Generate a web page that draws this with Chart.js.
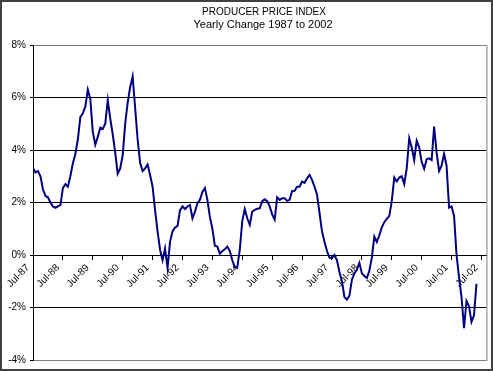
<!DOCTYPE html>
<html>
<head>
<meta charset="utf-8">
<script src="https://cdn.jsdelivr.net/npm/chart.js@4.4.1/dist/chart.umd.min.js"></script>
<style>
  html, body { margin: 0; padding: 0; background: #fff; }
  canvas { display: block; }
</style>
</head>
<body>
<canvas id="chart" width="493" height="371"></canvas>
<script>
// Title lines
const TITLE = "PRODUCER PRICE INDEX";
const SUBTITLE = "Yearly Change 1987 to 2002";

// X tick labels, one every 12 months starting Jul-87
const TICK_LABELS = [
    "Jul-87", "Jul-88", "Jul-89", "Jul-90", "Jul-91", "Jul-92", "Jul-93", "Jul-94",
    "Jul-95", "Jul-96", "Jul-97", "Jul-98", "Jul-99", "Jul-00", "Jul-01", "Jul-02",
];

// Y axis ticks (percent)
const Y_TICKS = [-4, -2, 0, 2, 4, 6, 8];

// Monthly yearly change (%), Jul-87 onward
const PPI_CHANGE = [
    3.3, 3.15, 3.2, 3.0, 2.5, 2.25, 2.2, 2.0, 1.85, 1.8, 1.85, 1.9,
    2.55, 2.7, 2.6, 3.0, 3.5, 3.85, 4.4, 5.25, 5.4, 5.65, 6.3, 5.95,
    4.7, 4.2, 4.5, 4.85, 4.8, 5.0, 5.9, 5.2, 4.6, 3.9, 3.1, 3.3,
    3.8, 5.0, 5.8, 6.4, 6.8, 5.6, 4.4, 3.5, 3.2, 3.3, 3.45, 3.05,
    2.6, 1.7, 0.9, 0.2, -0.2, 0.25, -0.5, 0.5, 0.9, 1.05, 1.1, 1.7,
    1.85, 1.75, 1.85, 1.9, 1.4, 1.65, 1.97, 2.1, 2.4, 2.55, 2.1, 1.45,
    1.0, 0.35, 0.32, 0.05, 0.15, 0.22, 0.32, 0.15, -0.2, -0.47, -0.47, 0.2,
    1.3, 1.75, 1.4, 1.15, 1.65, 1.72, 1.76, 1.78, 2.05, 2.12, 2.05, 1.85,
    1.55, 1.35, 2.2, 2.1, 2.16, 2.16, 2.06, 2.1, 2.44, 2.45, 2.6, 2.6,
    2.8, 2.75, 2.92, 3.05, 2.86, 2.6, 2.3, 1.6, 0.9, 0.5, 0.15, -0.1,
    -0.13, 0.0, -0.2, -0.65, -1.0, -1.6, -1.7, -1.55, -0.95, -0.7, -0.55, -0.3,
    -0.7, -0.8, -0.88, -0.6, -0.1, 0.7, 0.5, 0.75, 1.05, 1.25, 1.38, 1.48,
    2.05, 2.95, 2.8, 2.95, 3.0, 2.7, 3.3, 4.45, 4.1, 3.62, 4.35, 4.1,
    3.55, 3.28, 3.65, 3.68, 3.62, 4.89, 3.9, 3.2, 3.4, 3.85, 3.4, 1.8,
    1.85, 1.5, 0.0, -0.85, -1.6, -2.79, -1.75, -1.95, -2.55, -2.3, -1.1,
];

const FONT = "'Liberation Sans', Arial, sans-serif";

// frame, plot border and title text
const framePlugin = {
    id: "frame",
    beforeDatasetsDraw(chart) {
        const { ctx, chartArea } = chart;
        ctx.save();
        ctx.strokeStyle = "#808080";
        ctx.lineWidth = 1;
        ctx.beginPath();
        ctx.moveTo(chartArea.right + 0.5, chartArea.top);
        ctx.lineTo(chartArea.right + 0.5, chartArea.bottom + 1);
        ctx.stroke();
        ctx.restore();
    },
    afterDraw(chart) {
        const { ctx, width, height } = chart;
        ctx.save();
        ctx.strokeStyle = "#404040";
        ctx.lineWidth = 2;
        ctx.strokeRect(1, 1, width - 2, height - 2);
        ctx.fillStyle = "#000";
        ctx.textAlign = "center";
        ctx.textBaseline = "middle";
        ctx.font = "10px " + FONT;
        ctx.fillText(TITLE, 264, 12);
        ctx.font = "11px " + FONT;
        ctx.fillText(SUBTITLE, 263, 25);
        ctx.restore();
    },
};

new Chart(document.getElementById("chart"), {
    type: "line",
    data: {
        datasets: [{
            data: PPI_CHANGE.map((v, i) => ({ x: i, y: v })),
            borderColor: "#000080",
            borderWidth: 2,
            pointRadius: 0,
            tension: 0,
            fill: false,
        }],
    },
    options: {
        responsive: false,
        animation: false,
        devicePixelRatio: 1,
        layout: { padding: { left: 0, top: 45, right: 5, bottom: 11 } },
        plugins: {
            legend: { display: false },
            title: { display: false },
            tooltip: { enabled: false },
        },
        scales: {
            x: {
                type: "linear",
                position: { y: 0 },
                min: 0,
                max: 182,
                grid: { drawOnChartArea: false, drawTicks: true, tickLength: 4, color: "#000" },
                border: { display: true, color: "#000", width: 1 },
                ticks: {
                    stepSize: 12,
                    includeBounds: false,
                    autoSkip: false,
                    minRotation: 45,
                    maxRotation: 45,
                    labelOffset: -5,
                    color: "#000",
                    font: { size: 10, family: FONT },
                    callback: (v) => TICK_LABELS[v / 12] ?? "",
                },
            },
            y: {
                min: Y_TICKS[0],
                max: Y_TICKS[Y_TICKS.length - 1],
                afterFit: (scale) => { scale.width = 33; },
                afterBuildTicks: (scale) => {
                    scale.ticks = Y_TICKS.map((v) => ({ value: v }));
                },
                grid: {
                    color: (c) => (c.tick && (c.tick.value === 8 || c.tick.value === -4)) ? "#808080" : "#000",
                    tickColor: "#000",
                    tickLength: 3,
                },
                border: { display: true, color: "#000", width: 1 },
                ticks: {
                    color: "#000",
                    padding: 4,
                    font: { size: 10, family: FONT },
                    callback: (v) => v + "%",
                },
            },
        },
    },
    plugins: [framePlugin],
});
</script>
</body>
</html>
